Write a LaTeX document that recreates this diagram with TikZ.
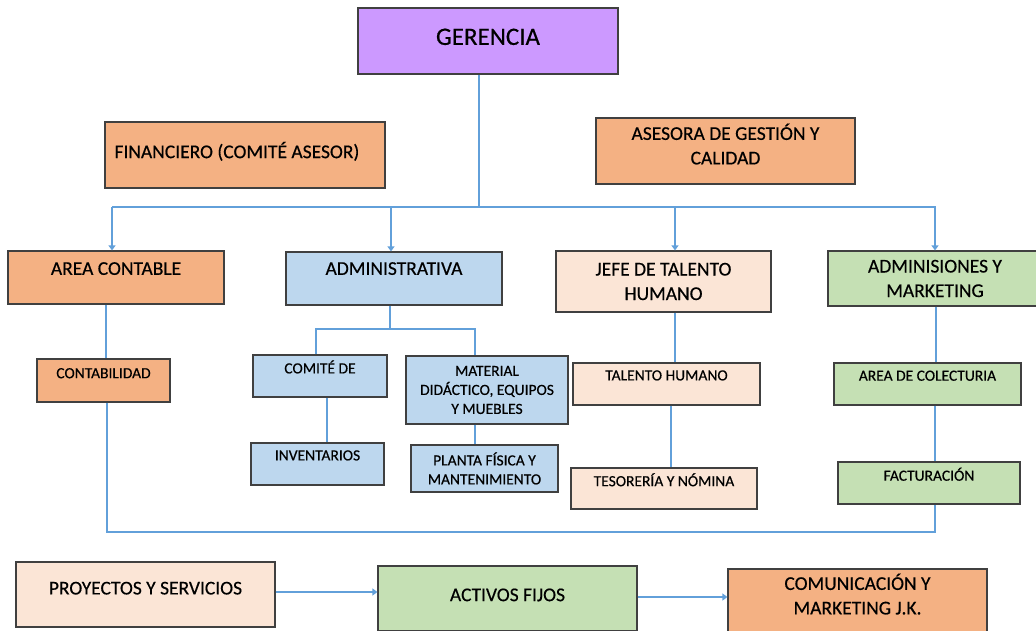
\documentclass[tikz,border=0pt]{standalone}
\usepackage{fontspec}
\setmainfont{Carlito}[FakeBold=0.4]
\usepackage{tikz}
\usetikzlibrary{arrows.meta}
\definecolor{boxline}{RGB}{64,64,64}
\definecolor{wirecol}{RGB}{98,160,218}
\definecolor{lilac}{RGB}{204,153,255}
\definecolor{apricot}{RGB}{244,177,131}
\definecolor{skyblue}{RGB}{189,215,238}
\definecolor{peach}{RGB}{251,229,214}
\definecolor{sage}{RGB}{197,224,180}
\newcommand{\fsbig}{\fontsize{25}{31}\selectfont}
\newcommand{\fsmid}{\fontsize{19.5}{24.5}\selectfont}
\newcommand{\fssmall}{\fontsize{15.5}{19}\selectfont}

\begin{document}
\begin{tikzpicture}[x=1pt, y=-1pt, >={Triangle[length=5pt, width=7pt]},
  box/.style={draw=boxline, line width=1.2pt, inner sep=0pt, align=center},
  wire/.style={draw=wirecol, line width=1.3pt}]
  \useasboundingbox (0,0) rectangle (1036,631);

  % Gerencia and advisers
  \node[box, fill=lilac, font=\fsbig, minimum width=260pt, minimum height=66pt,
    text height=15.8pt, text depth=8pt] (ger) at (488,41) {GERENCIA};
  \node[box, fill=apricot, font=\fsmid, minimum width=280pt, minimum height=66pt,
    text width=261pt, inner xsep=9.5pt, align=flush left,
    text height=12.3pt, text depth=6pt] (fin) at (245,155)
    {FINANCIERO (COMITÉ ASESOR)};
  \node[box, fill=apricot, font=\fsmid, minimum width=259pt, minimum height=66pt,
    text depth=14pt] (ase) at (725.5,151) {ASESORA DE GESTIÓN Y\\CALIDAD};

  % Areas (second row)
  \node[box, fill=apricot, font=\fsmid, minimum width=216pt, minimum height=53pt,
    text height=12.3pt, text depth=17.6pt] (area) at (116,277.5) {AREA CONTABLE};
  \node[box, fill=skyblue, font=\fsmid, minimum width=216pt, minimum height=53pt,
    text height=12.3pt, text depth=19.6pt] (adm) at (394,278.5) {ADMINISTRATIVA};
  \node[box, fill=peach, font=\fsmid, minimum width=215pt, minimum height=61pt]
    (jefe) at (663.5,281.5) {JEFE DE TALENTO\\HUMANO};
  \node[box, fill=sage, font=\fsmid, minimum width=214pt, minimum height=55pt]
    (adis) at (935,278.5) {ADMINISIONES Y\\MARKETING};

  % Sub units
  \node[box, fill=apricot, font=\fssmall, minimum width=133pt, minimum height=43pt,
    text height=9.8pt, text depth=14.4pt] (contab) at (103.5,380.5) {CONTABILIDAD};
  \node[box, fill=skyblue, font=\fssmall, minimum width=134pt, minimum height=42pt,
    text height=9.8pt, text depth=15pt] (comite) at (320,376) {COMITÉ DE};
  \node[box, fill=skyblue, font=\fssmall, minimum width=162pt, minimum height=68pt]
    (mat) at (487,390) {MATERIAL\\DIDÁCTICO, EQUIPOS\\Y MUEBLES};
  \node[box, fill=skyblue, font=\fssmall, minimum width=133pt, minimum height=42pt,
    text height=9.8pt, text depth=17pt] (inv) at (317.5,464) {INVENTARIOS};
  \node[box, fill=skyblue, font=\fssmall, minimum width=147pt, minimum height=47pt]
    (planta) at (484.5,468.5) {PLANTA FÍSICA Y\\MANTENIMIENTO};
  \node[box, fill=peach, font=\fssmall, minimum width=187pt, minimum height=42pt,
    text height=9.8pt, text depth=17pt] (tal) at (666.5,384) {TALENTO HUMANO};
  \node[box, fill=peach, font=\fssmall, minimum width=186pt, minimum height=41pt,
    text height=9.8pt, text depth=14.4pt] (tes) at (664,488.5) {TESORERÍA Y NÓMINA};
  \node[box, fill=sage, font=\fssmall, minimum width=187pt, minimum height=42pt,
    text height=9.8pt, text depth=16.4pt] (col) at (927.5,384) {AREA DE COLECTURIA};
  \node[box, fill=sage, font=\fssmall, minimum width=182pt, minimum height=42pt,
    text height=9.8pt, text depth=14.4pt] (fact) at (929,483) {FACTURACIÓN};

  % Bottom row
  \node[box, fill=peach, font=\fsmid, minimum width=259pt, minimum height=65pt,
    text height=12.3pt, text depth=12.4pt] (proy) at (145.5,594.5) {PROYECTOS Y SERVICIOS};
  \node[box, fill=sage, font=\fsmid, minimum width=259pt, minimum height=65pt,
    text height=12.3pt, text depth=7pt] (act) at (507.5,598.5) {ACTIVOS FIJOS};
  \node[box, fill=apricot, font=\fsmid, minimum width=259pt, minimum height=65pt,
    text depth=15pt] (com) at (857.5,601.5) {COMUNICACIÓN Y\\MARKETING J.K.};

  % Main bus under Gerencia
  \draw[wire] (479,0 |- ger.south) -- (479,207);
  \draw[wire] (112,207) -- (936,207);
  \draw[wire, ->] (112,207) -- (112,0 |- area.north);
  \draw[wire, ->] (391,207) -- (391,0 |- adm.north);
  \draw[wire, ->] (675,207) -- (675,0 |- jefe.north);
  \draw[wire, ->] (935,207) -- (935,0 |- adis.north);

  % Area contable
  \draw[wire] (106,0 |- area.south) -- (106,0 |- contab.north);

  % Administrativa
  \draw[wire] (390,0 |- adm.south) -- (390,329);
  \draw[wire] (316,0 |- comite.north) -- (316,329) -- (475,329) -- (475,0 |- mat.north);
  \draw[wire] (327,0 |- comite.south) -- (327,0 |- inv.north);
  \draw[wire] (475,0 |- mat.south) -- (475,0 |- planta.north);

  % Talento humano
  \draw[wire] (675,0 |- jefe.south) -- (675,0 |- tal.north);
  \draw[wire] (671,0 |- tal.south) -- (671,0 |- tes.north);

  % Admisiones
  \draw[wire] (936,0 |- adis.south) -- (936,0 |- col.north);
  \draw[wire] (935,0 |- col.south) -- (935,0 |- fact.north);

  % Loop back from contabilidad to facturacion
  \draw[wire] (107,0 |- contab.south) -- (107,532) -- (935,532) -- (935,0 |- fact.south);

  % Bottom arrows
  \draw[wire, ->] (proy.east |- 0,592) -- (act.west |- 0,592);
  \draw[wire, ->] (act.east |- 0,597) -- (com.west |- 0,597);

\end{tikzpicture}
\end{document}
